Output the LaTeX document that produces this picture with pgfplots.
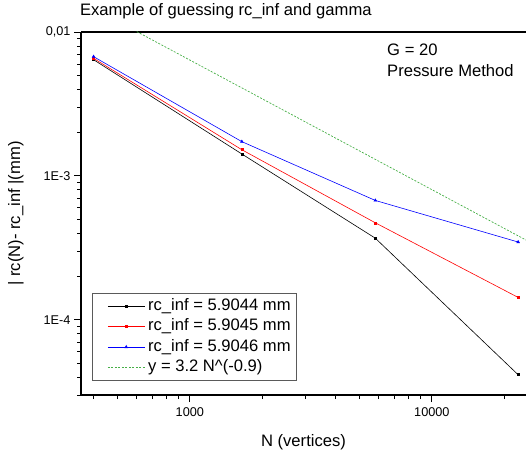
\documentclass[border=0pt]{standalone}
\usepackage{fontspec}
\setmainfont{Liberation Sans}
\usepackage{pgfplots}
\pgfplotsset{compat=1.18}
\definecolor{myred}{RGB}{255,0,0}
\definecolor{myblue}{RGB}{0,0,255}
\definecolor{mygreen}{RGB}{70,175,70}
\begin{document}
\begin{tikzpicture}
\begin{axis}[
  at={(0,0)}, anchor=south west,
  scale only axis, width=445pt, height=363pt,
  xmode=log, ymode=log,
  xmin=355, xmax=24500, ymin=3e-5, ymax=1e-2,
  axis x line*=box, axis y line*=left,
  xtick pos=bottom, ytick pos=left,
  xtick={1000,10000}, xticklabels={1000,10000},
  ytick={1e-4,1e-3,1e-2}, yticklabels={1E-4,1E-3,{0,01}},
  minor xtick={400,500,600,700,800,900,2000,3000,4000,5000,6000,7000,8000,9000,20000},
  minor ytick={3e-5,4e-5,5e-5,6e-5,7e-5,8e-5,9e-5,2e-4,3e-4,4e-4,5e-4,6e-4,7e-4,8e-4,9e-4,2e-3,3e-3,4e-3,5e-3,6e-3,7e-3,8e-3,9e-3},
  tick align=outside,
  major tick length=7pt, minor tick length=4pt,
  every tick/.style={black, line width=0.8pt},
  axis line style={line width=1.2pt, black},
  tick label style={font=\fontsize{12.7}{15}\selectfont},
  xticklabel style={yshift=-2pt},
  yticklabel style={xshift=0pt},
  title={Example of guessing rc\_inf and gamma},
  every axis title/.style={at={(axis description cs:0,1)}, anchor=base west, yshift=16pt, xshift=-4.5pt, font=\fontsize{16.6}{19}\selectfont},
  xlabel={N (vertices)},
  every axis x label/.style={at={(axis description cs:0.5,0)}, anchor=base, yshift=-51pt, font=\fontsize{16.6}{19}\selectfont},
  ylabel={\textbar\ rc(N)- rc\_inf \textbar(mm)},
  every axis y label/.style={at={([xshift=-61pt]axis description cs:0,0.5)}, anchor=base, rotate=90, font=\fontsize{16.6}{19}\selectfont},
  legend cell align=left,
  legend style={at={(0.0247,0.0386)}, anchor=south west, draw={rgb,255:red,90;green,90;blue,90}, line width=0.8pt,
    inner xsep=3pt, inner ysep=3pt, row sep=0.5pt,
    font=\fontsize{16.6}{19}\selectfont,
    nodes={text height=12pt, text depth=4pt, inner ysep=2pt, inner xsep=3pt}},
  legend image code/.code={\path (0pt,0pt); \draw[mark repeat=2,mark phase=2,#1] plot coordinates {(12pt,0pt) (30.5pt,0pt) (49pt,0pt)};},
]
\addplot[black, line width=0.6pt, mark=square*, mark size=1.0pt] coordinates {
  (400,6.42e-3) (1640,1.42e-3) (5840,3.69e-4) (22730,4.15e-5)};
\addlegendentry{rc\_inf = 5.9044 mm}
\addplot[myred, line width=0.6pt, mark=square*, mark size=1.0pt] coordinates {
  (400,6.56e-3) (1640,1.52e-3) (5840,4.72e-4) (22730,1.43e-4)};
\addlegendentry{rc\_inf = 5.9045 mm}
\addplot[myblue, line width=0.6pt, mark=triangle*, mark size=1.5pt] coordinates {
  (400,6.74e-3) (1640,1.73e-3) (5840,6.75e-4) (22730,3.47e-4)};
\addlegendentry{rc\_inf = 5.9046 mm}
\addplot[mygreen, line width=0.7pt, dash pattern=on 2pt off 1.5pt] coordinates {
  (400,1.457e-2) (25000,3.517e-4)};
\addlegendentry{y = 3.2 N\textasciicircum(-0.9)}
\node[anchor=base west, font=\fontsize{16.6}{19}\selectfont, align=left] at ([xshift=302.7pt,yshift=-24pt]axis description cs:0,1) {G = 20};
\node[anchor=base west, font=\fontsize{16.6}{19}\selectfont, align=left] at ([xshift=302.7pt,yshift=-45pt]axis description cs:0,1) {Pressure Method};
\end{axis}
\pgfresetboundingbox
\path[use as bounding box] (-81pt,-59pt) rectangle (445pt,395pt);
\end{tikzpicture}
\end{document}
